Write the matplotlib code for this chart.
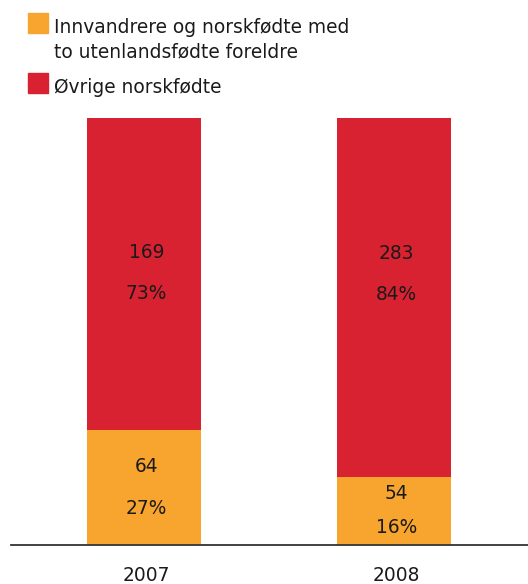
import matplotlib.pyplot as plt
from matplotlib.patches import Rectangle

plt.rcParams['font.family'] = 'DejaVu Sans'

years = ['2007', '2008']
innvandrere = [64, 54]
ovrige = [169, 283]
pct_innv = [27, 16]
pct_ovrige = [73, 84]
legend_labels = ['Innvandrere og norskfødte med\nto utenlandsfødte foreldre',
                 'Øvrige norskfødte']

orange = '#F7A52F'
red = '#D92231'
txt = '#1a1a1a'

W, H = 528, 584
fig = plt.figure(figsize=(W / 100, H / 100), dpi=100)
ax = fig.add_axes([11 / W, 39 / H, 517 / W, (545 - 118) / H])

x = list(range(len(years)))
bw = 0.456
ax.bar(x, pct_innv, width=bw, color=orange)
ax.bar(x, pct_ovrige, width=bw, bottom=pct_innv, color=red)

ax.set_xlim(-0.532, 1.536)
ax.set_ylim(0, 100)

# count above, percent below, around the middle of each segment
fs = 13.4
for i in x:
    mid = pct_innv[i] / 2
    gap = 4.9 if pct_innv[i] > 20 else 4.0
    ax.text(i + 0.01, mid + gap, str(innvandrere[i]), ha='center', va='center', fontsize=fs, color=txt)
    ax.text(i + 0.01, mid - gap, f'{pct_innv[i]}%', ha='center', va='center', fontsize=fs, color=txt)
    mid = pct_innv[i] + pct_ovrige[i] / 2
    shift = 0.3 if i == 0 else 5.5
    ax.text(i + 0.01, mid + shift + 4.8, str(ovrige[i]), ha='center', va='center', fontsize=fs, color=txt)
    ax.text(i + 0.01, mid + shift - 4.8, f'{pct_ovrige[i]}%', ha='center', va='center', fontsize=fs, color=txt)

for s in ['top', 'right', 'left']:
    ax.spines[s].set_visible(False)
ax.spines['bottom'].set_color('#333333')
ax.spines['bottom'].set_linewidth(1.3)
ax.set_yticks([])
ax.set_xticks([i + 0.01 for i in x])
ax.set_xticklabels(years, fontsize=fs, color=txt)
ax.tick_params(axis='x', length=0, pad=15)

# legend drawn by hand
for (top, col) in [(13, orange), (73, red)]:
    fig.patches.append(Rectangle((28 / W, 1 - (top + 20) / H), 20 / W, 20 / H,
                                 transform=fig.transFigure, color=col))
fig.text(54 / W, 1 - 33 / H, legend_labels[0].split('\n')[0], fontsize=fs, color=txt, va='baseline')
fig.text(54 / W, 1 - 57 / H, legend_labels[0].split('\n')[1], fontsize=fs, color=txt, va='baseline')
fig.text(54 / W, 1 - 93 / H, legend_labels[1], fontsize=fs, color=txt, va='baseline')

fig.savefig('out.png', dpi=100)
